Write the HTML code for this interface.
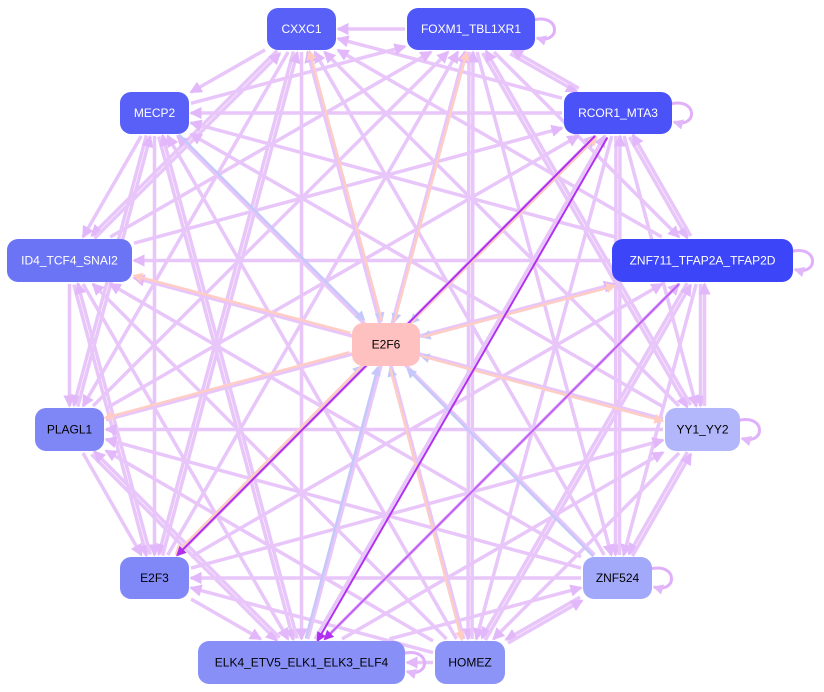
<!DOCTYPE html>
<html><head><meta charset="utf-8"><style>
html,body{margin:0;padding:0;background:#fff;}
svg{display:block;}
text{font-family:"Liberation Sans",sans-serif;font-size:12px;}
</style></head><body>
<svg id="s" width="824" height="692" viewBox="0 0 824 692" xmlns="http://www.w3.org/2000/svg">
<defs>
<marker id="mp" markerWidth="3.5" markerHeight="3.5" refX="3" refY="1.75" orient="auto" markerUnits="strokeWidth"><path d="M0,0 L3.5,1.75 L0,3.5z" fill="#e2b8fa"/></marker>
<marker id="mr" markerWidth="4" markerHeight="4" refX="3.2" refY="2" orient="auto" markerUnits="strokeWidth"><path d="M0,0 L4,2 L0,4z" fill="#ffcdc4"/></marker>
<marker id="mb" markerWidth="4" markerHeight="4" refX="3.2" refY="2" orient="auto" markerUnits="strokeWidth"><path d="M0,0 L4,2 L0,4z" fill="#c4c8fa"/></marker>
<marker id="md" markerWidth="5" markerHeight="5" refX="4" refY="2.5" orient="auto" markerUnits="strokeWidth"><path d="M0,0 L5,2.5 L0,5z" fill="#b030f0"/></marker>
</defs>
<g id="edges"></g>
<g id="nodes"></g>
</svg>
<script>
var N={
CXXC1:[267,8,69,42,"#5860f8","#fff"],
FOXM1_TBL1XR1:[407,8,128,42,"#4f57f8","#fff"],
MECP2:[120,92,69,42,"#5860f8","#fff"],
RCOR1_MTA3:[564,92,108,42,"#4a52f8","#fff"],
ID4_TCF4_SNAI2:[7,239,125,43,"#6c74f6","#fff"],
ZNF711_TFAP2A_TFAP2D:[612,239,181,43,"#3c46f8","#fff"],
E2F6:[352,323,68,43,"#ffc0c0","#000"],
PLAGL1:[35,408,69,43,"#7f86f6","#000"],
YY1_YY2:[665,408,75,43,"#b2b6fa","#000"],
E2F3:[120,557,69,42,"#8088f8","#000"],
ZNF524:[583,557,69,42,"#a2a8fa","#000"],
"ELK4_ETV5_ELK1_ELK3_ELF4":[198,641,207,43,"#8890f8","#000"],
HOMEZ:[435,641,70,43,"#8c94f8","#000"]};
var ns="http://www.w3.org/2000/svg";
function c(n){var r=N[n];return [r[0]+r[2]/2,r[1]+r[3]/2];}
function clip(n,dx,dy){var r=N[n];var hw=r[2]/2+2,hh=r[3]/2+2;return Math.min(Math.abs(dx)>0?hw/Math.abs(dx):1e9,Math.abs(dy)>0?hh/Math.abs(dy):1e9);}
var E=document.getElementById("edges");
function line(a,b,col,m,w,off){var p=c(a),q=c(b);var dx=q[0]-p[0],dy=q[1]-p[1];var L=Math.hypot(dx,dy);var ox=-dy/L*off,oy=dx/L*off;
var t1=clip(a,dx,dy),t2=clip(b,-dx,-dy);
var x1=p[0]+dx*t1+ox,y1=p[1]+dy*t1+oy,x2=q[0]-dx*t2+ox,y2=q[1]-dy*t2+oy;
var l=document.createElementNS(ns,"line");l.setAttribute("x1",x1);l.setAttribute("y1",y1);l.setAttribute("x2",x2);l.setAttribute("y2",y2);
l.setAttribute("stroke",col);l.setAttribute("stroke-width",w);l.setAttribute("marker-end","url(#"+m+")");E.appendChild(l);}
var outer=Object.keys(N).filter(function(k){return k!="E2F6";});
for(var i=0;i<outer.length;i++)for(var j=i+1;j<outer.length;j++){
 if((i*7+j*3)%4==0){line(outer[i],outer[j],"#e8c6fa","mp",3.5,2);line(outer[j],outer[i],"#e8c6fa","mp",3.5,2);}
 else if((i+j)%2==0)line(outer[i],outer[j],"#e8c6fa","mp",3.5,0);
 else line(outer[j],outer[i],"#e8c6fa","mp",3.5,0);}
var toE=["CXXC1","FOXM1_TBL1XR1","MECP2","RCOR1_MTA3","ZNF711_TFAP2A_TFAP2D","ZNF524","ELK4_ETV5_ELK1_ELK3_ELF4","HOMEZ","E2F3","YY1_YY2"];
toE.forEach(function(k){line(k,"E2F6","#c4c8fa","mb",2.5,-2);});
var fromE=["CXXC1","FOXM1_TBL1XR1","RCOR1_MTA3","ID4_TCF4_SNAI2","ZNF711_TFAP2A_TFAP2D","PLAGL1","YY1_YY2","E2F3","HOMEZ"];
fromE.forEach(function(k){line("E2F6",k,"#ffcdc4","mr",2.5,2);});
line("RCOR1_MTA3","E2F3","#b030f0","md",2,0);
line("RCOR1_MTA3","ELK4_ETV5_ELK1_ELK3_ELF4","#b030f0","md",2,-3);
line("ZNF711_TFAP2A_TFAP2D","ELK4_ETV5_ELK1_ELK3_ELF4","#c060f4","md",2,0);
function loop(n){var r=N[n];var x=r[0]+r[2],y=r[1]+r[3]/2;var p=document.createElementNS(ns,"path");
p.setAttribute("d","M"+(x-2)+","+(y-9)+" C"+(x+26)+","+(y-16)+" "+(x+26)+","+(y+16)+" "+(x+2)+","+(y+9));
p.setAttribute("fill","none");p.setAttribute("stroke","#e0b0fa");p.setAttribute("stroke-width",3);p.setAttribute("marker-end","url(#mp)");E.appendChild(p);}
["FOXM1_TBL1XR1","RCOR1_MTA3","ZNF711_TFAP2A_TFAP2D","YY1_YY2","ZNF524","ELK4_ETV5_ELK1_ELK3_ELF4"].forEach(function(n){loop(n);});
var G=document.getElementById("nodes");
for(var k in N){var r=N[k];var rc=document.createElementNS(ns,"rect");rc.setAttribute("x",r[0]);rc.setAttribute("y",r[1]);rc.setAttribute("width",r[2]);rc.setAttribute("height",r[3]);rc.setAttribute("rx",11);rc.setAttribute("fill",r[4]);G.appendChild(rc);
var t=document.createElementNS(ns,"text");t.setAttribute("x",r[0]+r[2]/2);t.setAttribute("y",r[1]+r[3]/2+4);t.setAttribute("text-anchor","middle");t.setAttribute("fill",r[5]);t.textContent=k;G.appendChild(t);}
</script>
</body></html>
